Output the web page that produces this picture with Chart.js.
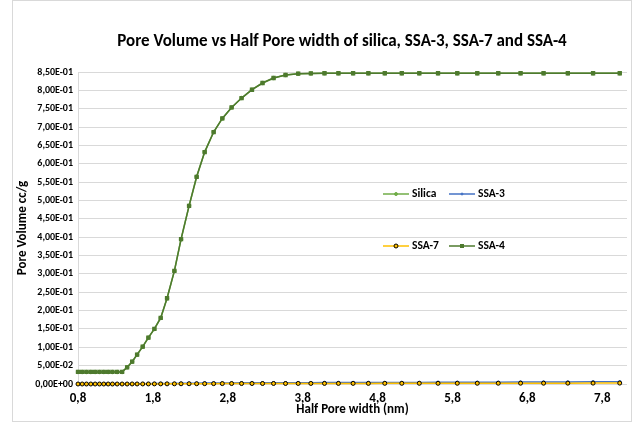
<!DOCTYPE html>
<html>
<head>
<meta charset="utf-8">
<script src="https://cdn.jsdelivr.net/npm/chart.js@4"></script>
<style>
  body { margin: 0; background: #fff; }
  canvas { display: block; }
</style>
</head>
<body>
<canvas id="pore-chart" width="636" height="427"></canvas>
<script>
// Half pore width (nm)
const halfPoreWidth = [0.78, 0.836, 0.893, 0.951, 1.009, 1.067, 1.124, 1.183, 1.24, 1.303,
    1.369, 1.436, 1.503, 1.569, 1.644, 1.72, 1.8, 1.884, 1.969, 2.067,
    2.156, 2.263, 2.364, 2.471, 2.591, 2.707, 2.831, 2.964, 3.103, 3.244,
    3.391, 3.551, 3.72, 3.889, 4.071, 4.257, 4.453, 4.657, 4.876, 5.103,
    5.337, 5.587, 5.844, 6.111, 6.391, 6.689, 6.996, 7.32, 7.657, 8.013];

// Pore volume (cc/g) per sample
const silica = [0.033, 0.033, 0.033, 0.033, 0.033, 0.033, 0.033, 0.033, 0.033, 0.033,
    0.033, 0.0455, 0.0608, 0.0799, 0.1017, 0.1263, 0.15, 0.18, 0.2337, 0.308,
    0.3946, 0.4854, 0.5645, 0.6318, 0.6864, 0.7235, 0.7535, 0.779, 0.8017, 0.82,
    0.8336, 0.8418, 0.8454, 0.8462, 0.8465, 0.8465, 0.8465, 0.8465, 0.8465, 0.8465,
    0.8465, 0.8465, 0.8465, 0.8465, 0.8465, 0.8465, 0.8465, 0.8465, 0.8465, 0.8465];
const ssa3 = [0, 0, 0, 0, 0, 0, 0, 0, 0, 0,
    0.0001, 0.0002, 0.0003, 0.0005, 0.0007, 0.0009, 0.0011, 0.0013, 0.0015, 0.0017,
    0.0019, 0.0021, 0.0023, 0.0025, 0.0027, 0.0029, 0.003, 0.0031, 0.0032, 0.0033,
    0.0034, 0.0035, 0.0036, 0.0037, 0.0038, 0.0039, 0.004, 0.0041, 0.0042, 0.0043,
    0.0044, 0.0046, 0.0047, 0.0049, 0.005, 0.0052, 0.0054, 0.0056, 0.0058, 0.006];
const ssa7 = [0, 0, 0, 0, 0, 0, 0, 0, 0, 0,
    0, 0, 0.0001, 0.0001, 0.0002, 0.0002, 0.0003, 0.0003, 0.0004, 0.0005,
    0.0006, 0.0007, 0.0008, 0.0009, 0.001, 0.0011, 0.0012, 0.0012, 0.0013, 0.0013,
    0.0014, 0.0014, 0.0015, 0.0015, 0.0016, 0.0016, 0.0017, 0.0017, 0.0018, 0.0018,
    0.0019, 0.0019, 0.002, 0.002, 0.0021, 0.0022, 0.0022, 0.0023, 0.0024, 0.0025];
const ssa4 = silica.slice();

const seriesNames = ['Silica', 'SSA-3', 'SSA-7', 'SSA-4'];

// X ticks sit one nm apart starting at the first width
const xTickValues = [0.78, 1.78, 2.78, 3.78, 4.78, 5.78, 6.78, 7.78];
const xTickLabels = ['0,8', '1,8', '2,8', '3,8', '4,8', '5,8', '6,8', '7,8'];

const chartTitle = 'Pore Volume vs Half Pore width of silica, SSA-3, SSA-7 and SSA-4';
const FONT = "Carlito, 'Liberation Sans', Arial, sans-serif";

function toPoints(values) {
    return values.map((v, i) => ({ x: halfPoreWidth[i], y: v }));
}

// Excel style 8,50E-01 labels
function sciLabel(v) {
    if (Math.abs(v) < 1e-12) return '0,00E+00';
    let e = Math.floor(Math.log10(Math.abs(v)) + 1e-9);
    let m = v / Math.pow(10, e);
    const sign = e < 0 ? '-' : '+';
    return m.toFixed(2).replace('.', ',') + 'E' + sign + String(Math.abs(e)).padStart(2, '0');
}

function drawMarker(c, style, x, y) {
    c.save();
    c.fillStyle = style.bg;
    c.strokeStyle = style.border;
    c.lineWidth = 1;
    if (style.shape === 'rect') {
        c.fillRect(x - style.r, y - style.r, style.r * 2, style.r * 2);
    } else {
        c.beginPath();
        c.arc(x, y, style.r, 0, Math.PI * 2);
        c.fill();
        c.stroke();
    }
    c.restore();
}

// Title, outer border and the legend inside the plot
const chartExtras = {
    id: 'chartExtras',
    beforeDraw(chart) {
        const c = chart.ctx;
        c.save();
        c.fillStyle = '#fff';
        c.fillRect(0, 0, chart.width, chart.height);
        c.strokeStyle = '#d9d9d9';
        c.lineWidth = 1;
        c.strokeRect(12.5, 0.5, 619, 421);
        c.restore();
    },
    afterDraw(chart) {
        const c = chart.ctx;
        c.save();
        c.fillStyle = '#000';
        c.font = 'bold 17px ' + FONT;
        c.textAlign = 'center';
        c.textBaseline = 'middle';
        c.fillText(chartTitle, 342, 42);

        const spots = [[383, 194], [449, 194], [383, 246], [449, 246]];
        chart.data.datasets.forEach((ds, i) => {
            const [x, y] = spots[i];
            c.strokeStyle = ds.borderColor;
            c.lineWidth = ds.borderWidth;
            c.beginPath();
            c.moveTo(x, y);
            c.lineTo(x + 26, y);
            c.stroke();
            drawMarker(c, ds.markerStyle, x + 13, y);
            c.fillStyle = '#000';
            c.font = 'bold 11.5px ' + FONT;
            c.textAlign = 'left';
            c.fillText(ds.label, x + 29, y + 0.5);
        });
        c.restore();
    }
};

const silicaMarker = { shape: 'circle', r: 1.5, bg: '#70AD47', border: '#70AD47' };
const ssa3Marker = { shape: 'circle', r: 1, bg: '#4472C4', border: '#4472C4' };
const ssa7Marker = { shape: 'circle', r: 2, bg: '#FFC000', border: '#000' };
const ssa4Marker = { shape: 'rect', r: 2, bg: '#4E7A2E', border: '#4E7A2E' };

const ctx = document.getElementById('pore-chart').getContext('2d');
const poreChart = new Chart(ctx, {
    type: 'line',
    data: {
        datasets: [
            {
                label: seriesNames[0], data: toPoints(silica), order: 3,
                borderColor: '#70AD47', borderWidth: 1.5, markerStyle: silicaMarker,
                pointRadius: 1.5, pointBackgroundColor: '#70AD47', pointBorderColor: '#70AD47'
            },
            {
                label: seriesNames[1], data: toPoints(ssa3), order: 2,
                borderColor: '#4472C4', borderWidth: 1.5, markerStyle: ssa3Marker,
                pointRadius: 1, pointBackgroundColor: '#4472C4', pointBorderColor: '#4472C4'
            },
            {
                label: seriesNames[2], data: toPoints(ssa7), order: 1,
                borderColor: '#FFC000', borderWidth: 1.5, markerStyle: ssa7Marker,
                pointRadius: 2, pointBackgroundColor: '#FFC000', pointBorderColor: '#000', pointBorderWidth: 1
            },
            {
                label: seriesNames[3], data: toPoints(ssa4), order: 0,
                borderColor: '#4E7A2E', borderWidth: 1.5, markerStyle: ssa4Marker,
                pointStyle: 'rect', pointRadius: 2, pointBackgroundColor: '#4E7A2E', pointBorderColor: '#4E7A2E'
            }
        ]
    },
    options: {
        responsive: false,
        animation: false,
        clip: false,
        layout: { padding: { left: 12, right: 9, top: 72, bottom: 5 } },
        plugins: {
            legend: { display: false },
            title: { display: false },
            tooltip: { enabled: false }
        },
        scales: {
            x: {
                type: 'linear',
                min: 0.78,
                max: 8.11,
                afterBuildTicks: (scale) => {
                    scale.ticks = xTickValues.map(v => ({ value: v }));
                },
                afterFit: (scale) => { scale.height = 38; },
                grid: { display: false, drawTicks: false },
                border: { display: false },
                ticks: {
                    padding: 7,
                    color: '#000',
                    maxRotation: 0,
                    autoSkip: false,
                    font: { family: FONT, size: 13, weight: 'bold' },
                    callback: (v) => {
                        const i = xTickValues.findIndex(t => Math.abs(t - v) < 1e-6);
                        return i >= 0 ? xTickLabels[i] : '';
                    }
                },
                title: {
                    display: true,
                    text: 'Half Pore width (nm)',
                    color: '#000',
                    padding: { top: 0, bottom: 4 },
                    font: { family: FONT, size: 13, weight: 'bold' }
                }
            },
            y: {
                min: 0,
                max: 0.85,
                afterFit: (scale) => { scale.width = 66; },
                grid: { color: '#d9d9d9', lineWidth: 1, drawTicks: false },
                border: { display: true, color: '#d9d9d9' },
                ticks: {
                    stepSize: 0.05,
                    padding: 5,
                    color: '#000',
                    font: { family: FONT, size: 10, weight: 'bold' },
                    callback: (v) => sciLabel(v)
                },
                title: {
                    display: true,
                    text: 'Pore Volume cc/g',
                    color: '#000',
                    padding: { top: 3, bottom: 0 },
                    font: { family: FONT, size: 13, weight: 'bold' }
                }
            }
        }
    },
    plugins: [chartExtras]
});
</script>
</body>
</html>
